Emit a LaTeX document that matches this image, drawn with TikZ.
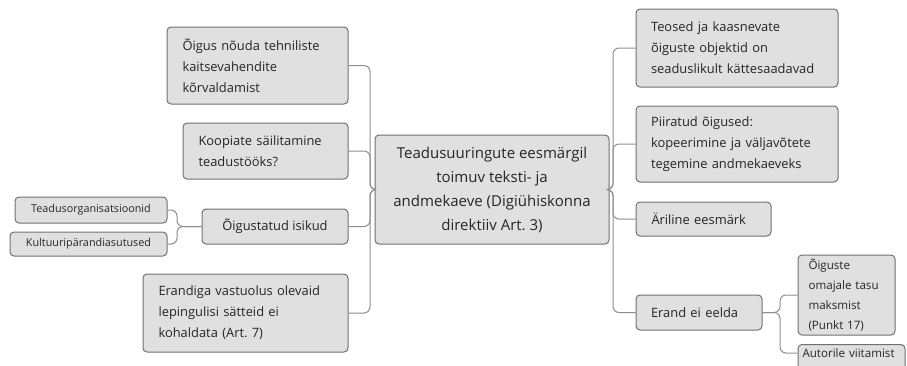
\documentclass[tikz,border=0pt]{standalone}
\usepackage{fontspec}
\setmainfont{Open Sans}
\AtBeginDocument{\hyphenpenalty=10000 \exhyphenpenalty=10000 \frenchspacing}
\definecolor{boxfill}{HTML}{E0E0E0}
\definecolor{boxedge}{HTML}{707070}
\definecolor{linkgray}{HTML}{8E8E8E}
\begin{document}
\begin{tikzpicture}[x=1pt,y=1pt,
  box/.style={draw=boxedge, fill=boxfill, line width=1pt, rounded corners=4pt,
    inner sep=0pt, align=left, text=black!85},
  leftbox/.style={box, font=\frenchspacing\fontsize{12.9}{21}\selectfont},
  smallbox/.style={box, align=center, font=\fontsize{10.8}{13}\selectfont},
  subbox/.style={box, font=\fontsize{11.6}{20}\selectfont},
  link/.style={draw=linkgray, line width=1pt, rounded corners=6pt}]
\useasboundingbox (0,0) rectangle (907,-365);

% central topic
\node[box, align=center, minimum width=234, minimum height=109,
  font=\frenchspacing\fontsize{15}{24}\selectfont] (c) at (492,-189.5)
  {Teadusuuringute eesmärgil\\toimuv teksti- ja\\andmekaeve (Digiühiskonna\\direktiiv Art. 3)};

% left branches
\node[leftbox, minimum width=181, minimum height=77, text width=150] (a) at (257.5,-65.5)
  {Õigus nõuda tehniliste\\kaitsevahendite\\kõrvaldamist};
\node[leftbox, minimum width=165, minimum height=56, text width=134] (b) at (265.5,-151)
  {Koopiate säilitamine\\teadustööks?};
\node[leftbox, align=center, minimum width=146, minimum height=35] (d) at (275,-226.5)
  {Õigustatud isikud};
\node[leftbox, minimum width=205, minimum height=78, text width=174] (e) at (245.5,-313)
  {Erandiga vastuolus olevaid\\lepingulisi sätteid ei\\kohaldata (Art.~7)};
\node[smallbox, minimum width=152, minimum height=26] (t1) at (91,-210)
  {Teadusorganisatsioonid};
\node[smallbox, minimum width=157, minimum height=24] (t2) at (88.5,-244)
  {Kultuuripärandiasutused};

% right branches
\node[leftbox, minimum width=202, minimum height=78, text width=172] (r1) at (737,-48)
  {Teosed ja kaasnevate\\õiguste objektid on\\seaduslikult kättesaadavad};
\node[leftbox, minimum width=202, minimum height=76, text width=172] (r2) at (737,-144)
  {Piiratud õigused:\\kopeerimine ja väljavõtete\\tegemine andmekaeveks};
\node[leftbox, minimum width=135, minimum height=34, text width=104] (r3) at (703.5,-219)
  {Äriline eesmärk};
\node[leftbox, minimum width=126, minimum height=35, text width=96] (r4) at (699,-312.5)
  {Erand ei eelda};
\node[subbox, minimum width=97, minimum height=80, text width=76] (s1) at (846.5,-295)
  {Õiguste\\omajale tasu\\maksmist\\(Punkt 17)};
\node[subbox, anchor=north, minimum width=107, inner ysep=4pt,
  text height=9pt, text depth=22pt, text width=98] (s2) at (851.5,-344)
  {Autorile viitamist};

% connectors on the left
\foreach \n in {a,b,d,e}
  \draw[link] (c.west) -- (370,-189.5) |- (\n.east);
\foreach \n in {t1,t2}
  \draw[link] (d.west) -- (177,-226.5) |- (\n.east);

% connectors on the right
\foreach \n in {r1,r2,r3,r4}
  \draw[link] (c.east) -- (613,-189.5) |- (\n.west);
\draw[link] (r4.east) -- (780,-312.5) |- (s1.west);
\draw[link] (r4.east) -- (780,-312.5) |- (s2.west |- 0,-353);
\end{tikzpicture}
\end{document}
